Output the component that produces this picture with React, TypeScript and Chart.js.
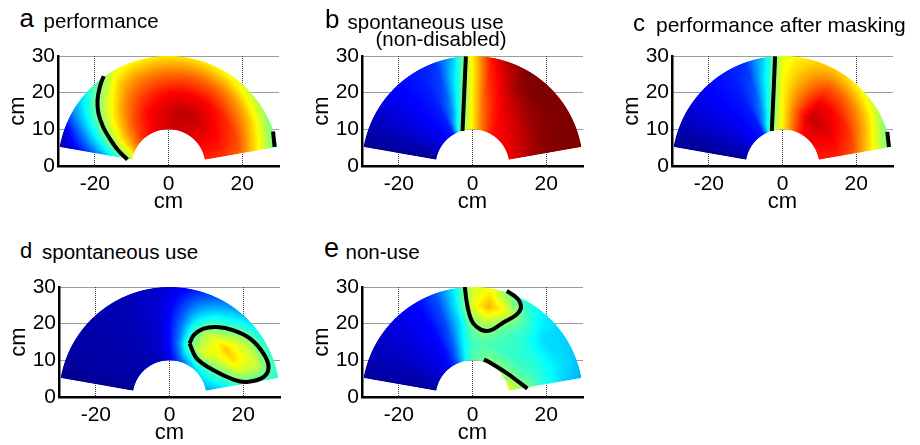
import React, { useEffect, useRef } from 'react';
import { Chart, registerables } from 'chart.js';

Chart.register(...registerables);

// ---------- data ----------
// polar sampling grid of each map: angle (deg) rows x radius (cm) columns
const ANGLES = [10, 20, 30, 40, 50, 60, 70, 80, 90, 100, 110, 120, 130, 140, 150, 160, 170];
const RADII = [10, 15, 20, 25, 30];
const X_TICKS = [-20, 0, 20];
const Y_TICKS = [0, 10, 20, 30];

// normalised map values (0 = dark blue ... 1 = dark red)
const perfValues = [
  [0.84, 0.83, 0.77, 0.62, 0.47],
  [0.86, 0.85, 0.8, 0.65, 0.49],
  [0.87, 0.87, 0.82, 0.69, 0.53],
  [0.89, 0.89, 0.84, 0.72, 0.56],
  [0.9, 0.91, 0.86, 0.75, 0.6],
  [0.91, 0.93, 0.88, 0.77, 0.62],
  [0.92, 0.94, 0.88, 0.78, 0.64],
  [0.92, 0.94, 0.88, 0.78, 0.65],
  [0.91, 0.92, 0.87, 0.77, 0.65],
  [0.9, 0.9, 0.85, 0.76, 0.64],
  [0.89, 0.88, 0.82, 0.74, 0.63],
  [0.87, 0.84, 0.78, 0.7, 0.6],
  [0.84, 0.79, 0.71, 0.6, 0.47],
  [0.8, 0.72, 0.62, 0.5, 0.36],
  [0.74, 0.64, 0.51, 0.38, 0.26],
  [0.66, 0.52, 0.38, 0.24, 0.1],
  [0.55, 0.38, 0.24, 0.12, 0.03],
];
const useNonDisabledValues = [
  [0.88, 0.95, 0.99, 1, 1],
  [0.88, 0.94, 0.99, 1, 1],
  [0.88, 0.93, 0.98, 1, 1],
  [0.88, 0.92, 0.97, 1, 1],
  [0.87, 0.9, 0.95, 1, 1],
  [0.86, 0.88, 0.92, 0.98, 1],
  [0.8, 0.84, 0.87, 0.91, 0.96],
  [0.73, 0.76, 0.8, 0.83, 0.86],
  [0.64, 0.64, 0.64, 0.63, 0.64],
  [0.56, 0.5, 0.42, 0.38, 0.32],
  [0.46, 0.28, 0.22, 0.19, 0.17],
  [0.16, 0.15, 0.15, 0.15, 0.15],
  [0.13, 0.13, 0.13, 0.13, 0.13],
  [0.11, 0.11, 0.11, 0.11, 0.11],
  [0.08, 0.08, 0.08, 0.08, 0.08],
  [0.05, 0.05, 0.05, 0.05, 0.05],
  [0.02, 0.02, 0.02, 0.02, 0.02],
];
const perfMaskedValues = [
  [0.85, 0.85, 0.78, 0.62, 0.47],
  [0.86, 0.87, 0.81, 0.66, 0.49],
  [0.87, 0.89, 0.84, 0.71, 0.56],
  [0.88, 0.91, 0.86, 0.75, 0.6],
  [0.88, 0.93, 0.88, 0.78, 0.64],
  [0.86, 0.93, 0.88, 0.79, 0.67],
  [0.8, 0.84, 0.8, 0.74, 0.67],
  [0.72, 0.74, 0.72, 0.68, 0.64],
  [0.63, 0.63, 0.63, 0.62, 0.6],
  [0.56, 0.5, 0.42, 0.38, 0.33],
  [0.45, 0.28, 0.22, 0.19, 0.17],
  [0.16, 0.15, 0.15, 0.15, 0.15],
  [0.13, 0.13, 0.13, 0.13, 0.13],
  [0.11, 0.11, 0.11, 0.11, 0.11],
  [0.08, 0.08, 0.08, 0.08, 0.08],
  [0.05, 0.05, 0.05, 0.05, 0.05],
  [0.02, 0.02, 0.02, 0.02, 0.02],
];
const useValues = [
  [0.28, 0.36, 0.44, 0.45, 0.42],
  [0.32, 0.43, 0.58, 0.58, 0.42],
  [0.34, 0.5, 0.66, 0.58, 0.4],
  [0.34, 0.55, 0.68, 0.54, 0.36],
  [0.32, 0.6, 0.62, 0.44, 0.3],
  [0.28, 0.55, 0.55, 0.38, 0.24],
  [0.22, 0.47, 0.42, 0.3, 0.18],
  [0.17, 0.26, 0.25, 0.2, 0.13],
  [0.11, 0.13, 0.13, 0.11, 0.09],
  [0.08, 0.08, 0.08, 0.08, 0.07],
  [0.06, 0.06, 0.06, 0.06, 0.06],
  [0.05, 0.05, 0.05, 0.05, 0.05],
  [0.05, 0.05, 0.05, 0.05, 0.05],
  [0.04, 0.04, 0.04, 0.04, 0.04],
  [0.04, 0.04, 0.04, 0.04, 0.04],
  [0.03, 0.03, 0.03, 0.03, 0.03],
  [0.02, 0.02, 0.02, 0.02, 0.02],
];
const nonUseValues = [
  [0.6, 0.5, 0.4, 0.33, 0.3],
  [0.58, 0.46, 0.4, 0.35, 0.32],
  [0.54, 0.44, 0.4, 0.34, 0.33],
  [0.53, 0.43, 0.4, 0.34, 0.34],
  [0.52, 0.43, 0.42, 0.4, 0.36],
  [0.52, 0.43, 0.44, 0.49, 0.4],
  [0.51, 0.44, 0.49, 0.62, 0.48],
  [0.47, 0.45, 0.54, 0.7, 0.62],
  [0.45, 0.44, 0.5, 0.6, 0.58],
  [0.38, 0.36, 0.34, 0.36, 0.36],
  [0.26, 0.22, 0.2, 0.2, 0.2],
  [0.16, 0.14, 0.13, 0.13, 0.13],
  [0.11, 0.11, 0.11, 0.11, 0.11],
  [0.09, 0.09, 0.09, 0.09, 0.09],
  [0.07, 0.07, 0.07, 0.07, 0.07],
  [0.05, 0.05, 0.05, 0.05, 0.05],
  [0.03, 0.03, 0.03, 0.03, 0.03],
];

// contour lines (cm)
const perfContour = [
  { x: -17.6, y: 24.5 }, { x: -18.65, y: 21.55 }, { x: -19.28, y: 17.92 }, { x: -19.0, y: 14.28 },
  { x: -17.75, y: 10.64 }, { x: -15.94, y: 7.46 }, { x: -13.68, y: 4.28 }, { x: -11.14, y: 1.74 },
];
const perfEdgeContour = [{ x: 28.4, y: 9.4 }, { x: 28.8, y: 5.2 }];
const useNonDisabledContour = [{ x: -2.71, y: 9.55 }, { x: -1.8, y: 29.9 }];
const perfMaskedContour = [{ x: -2.9, y: 9.55 }, { x: -2.0, y: 29.9 }];
const perfMaskedEdgeContour = [{ x: 28.45, y: 9.3 }, { x: 28.9, y: 5.2 }];
const useContour = [
  { x: 5.44, y: 14.55 }, { x: 6.53, y: 16.83 }, { x: 9.24, y: 18.64 }, { x: 12.86, y: 19.1 },
  { x: 17.39, y: 18.19 }, { x: 21.91, y: 15.92 }, { x: 25.53, y: 11.83 }, { x: 26.89, y: 8.19 },
  { x: 25.53, y: 5.46 }, { x: 21.0, y: 4.1 }, { x: 17.39, y: 4.74 }, { x: 11.96, y: 7.28 },
  { x: 7.43, y: 10.46 }, { x: 5.44, y: 14.55 },
];
const nonUseContourTop = [
  { x: -2.09, y: 30.0 }, { x: -1.64, y: 26.37 }, { x: -0.91, y: 22.73 }, { x: 0.26, y: 20.01 },
  { x: 2.25, y: 18.37 }, { x: 4.06, y: 18.0 }, { x: 5.87, y: 18.64 }, { x: 8.59, y: 20.46 },
  { x: 11.76, y: 22.28 }, { x: 13.11, y: 24.1 }, { x: 12.84, y: 25.92 }, { x: 11.76, y: 27.28 },
  { x: 9.31, y: 28.91 },
];
const nonUseContourBottom = [
  { x: 3.1, y: 10.2 }, { x: 4.6, y: 9.5 }, { x: 9.5, y: 6.4 }, { x: 14.92, y: 2.28 },
];

// ---------- drawing helpers ----------
const FONT = "'Liberation Sans', Arial, Helvetica, sans-serif";
Chart.defaults.font.family = FONT;
Chart.defaults.color = '#000';

function jet(v: number): [number, number, number] {
  const f = (t: number) => Math.round(255 * Math.max(0, Math.min(1, t)));
  return [f(1.5 - Math.abs(4 * v - 3)), f(1.5 - Math.abs(4 * v - 2)), f(1.5 - Math.abs(4 * v - 1))];
}

function sample(grid: number[][], th: number, r: number) {
  const da = ANGLES[1] - ANGLES[0];
  const dr = RADII[1] - RADII[0];
  const a = (th - ANGLES[0]) / da;
  const b = (r - RADII[0]) / dr;
  const i0 = Math.min(Math.max(Math.floor(a), 0), ANGLES.length - 2);
  const j0 = Math.min(Math.max(Math.floor(b), 0), RADII.length - 2);
  const fa = Math.min(Math.max(a - i0, 0), 1);
  const fb = Math.min(Math.max(b - j0, 0), 1);
  const g = grid;
  return (
    (1 - fa) * ((1 - fb) * g[i0][j0] + fb * g[i0][j0 + 1]) +
    fa * ((1 - fb) * g[i0 + 1][j0] + fb * g[i0 + 1][j0 + 1])
  );
}

function makeFanPlugin(grid: number[][]) {
  return {
    id: 'fanField',
    beforeDatasetsDraw(chart: any) {
      const { left, top, right, bottom } = chart.chartArea;
      const xs = chart.scales.x;
      const ys = chart.scales.y;
      const w = Math.ceil(right - left);
      const h = Math.ceil(bottom - top);
      const off = document.createElement('canvas');
      off.width = w;
      off.height = h;
      const octx = off.getContext('2d')!;
      const img = octx.createImageData(w, h);
      const rMin = RADII[0], rMax = RADII[RADII.length - 1];
      const aMin = ANGLES[0], aMax = ANGLES[ANGLES.length - 1];
      const inside = (x: number, y: number) => {
        const r = Math.hypot(x, y);
        const th = (Math.atan2(y, x) * 180) / Math.PI;
        return r >= rMin && r <= rMax && th >= aMin && th <= aMax;
      };
      const subs = [0.2, 0.4, 0.6, 0.8];
      for (let j = 0; j < h; j++) {
        for (let i = 0; i < w; i++) {
          let cover = 0;
          for (const sx of subs) {
            for (const sy of subs) {
              const x = xs.getValueForPixel(left + i + sx);
              const y = ys.getValueForPixel(top + j + sy);
              if (inside(x, y)) cover++;
            }
          }
          if (!cover) continue;
          const x = xs.getValueForPixel(left + i + 0.5);
          const y = ys.getValueForPixel(top + j + 0.5);
          const r = Math.min(Math.max(Math.hypot(x, y), rMin), rMax);
          const th = Math.min(Math.max((Math.atan2(y, x) * 180) / Math.PI, aMin), aMax);
          const [R, G, B] = jet(sample(grid, th, r));
          const k = (j * w + i) * 4;
          img.data[k] = R;
          img.data[k + 1] = G;
          img.data[k + 2] = B;
          img.data[k + 3] = Math.round((255 * cover) / 16);
        }
      }
      octx.putImageData(img, 0, 0);
      chart.ctx.drawImage(off, left, top);
    },
  };
}

type PanelSpec = {
  left: number;
  top: number;
  grid: number[][];
  contours: { x: number; y: number }[][];
};

const Y_AXIS_W = 58;
const X_AXIS_H = 49;
const CANVAS_W = 300;
const CANVAS_H = 175;

function Panel({ spec }: { spec: PanelSpec }) {
  const ref = useRef<HTMLCanvasElement>(null);
  useEffect(() => {
    const chart = new Chart(ref.current!, {
      type: 'scatter',
      data: {
        datasets: spec.contours.map((c) => ({
          data: c,
          showLine: true,
          borderColor: '#000',
          backgroundColor: '#000',
          borderWidth: 4,
          pointRadius: 0,
          tension: 0.35,
          borderCapStyle: 'butt',
          fill: false,
        })),
      } as any,
      options: {
        responsive: false,
        animation: false,
        events: [],
        layout: { padding: { top: 16, right: 21, bottom: 0, left: 0 } },
        plugins: { legend: { display: false }, tooltip: { enabled: false } },
        scales: {
          x: {
            type: 'linear',
            min: -30,
            max: 30,
            afterBuildTicks: (s: any) => {
              s.ticks = X_TICKS.map((v) => ({ value: v }));
            },
            afterFit: (s: any) => {
              s.height = X_AXIS_H;
            },
            grid: { color: '#3a3a3a', lineWidth: 1, drawTicks: false, borderDash: [1, 1] },
            border: { display: true, color: '#000', width: 2.5, dash: [1, 1], z: 1 },
            ticks: { padding: 6, font: { size: 21 }, color: '#000', maxRotation: 0, autoSkip: false },
            title: { display: true, text: 'cm', font: { size: 22 }, color: '#000', padding: 0 },
          },
          y: {
            type: 'linear',
            min: 0,
            max: 30,
            afterBuildTicks: (s: any) => {
              s.ticks = Y_TICKS.map((v) => ({ value: v }));
            },
            afterFit: (s: any) => {
              s.width = Y_AXIS_W;
            },
            grid: { color: '#3a3a3a', lineWidth: 1, drawTicks: false, borderDash: [1, 1] },
            border: { display: true, color: '#000', width: 2.5, dash: [1, 1], z: 1 },
            ticks: { padding: 3, font: { size: 21 }, color: '#000', autoSkip: false },
            title: { display: true, text: 'cm', font: { size: 22 }, color: '#000', padding: { top: 5, bottom: 0 } },
          },
        },
      } as any,
      plugins: [makeFanPlugin(spec.grid)],
    });
    return () => chart.destroy();
  }, [spec]);
  return (
    <canvas
      ref={ref}
      width={CANVAS_W}
      height={CANVAS_H}
      style={{ position: 'absolute', left: spec.left, top: spec.top, width: CANVAS_W, height: CANVAS_H }}
    />
  );
}

function Label({ x, baseline, size, text }: { x: number; baseline: number; size: number; text: string }) {
  return (
    <div
      style={{
        position: 'absolute',
        left: x,
        top: baseline - 0.8465 * size,
        fontSize: size,
        lineHeight: `${size}px`,
        fontFamily: FONT,
        whiteSpace: 'nowrap',
        color: '#000',
      }}
    >
      {text}
    </div>
  );
}

const PANELS: PanelSpec[] = [
  { left: 0, top: 40, grid: perfValues, contours: [perfContour, perfEdgeContour] },
  { left: 304, top: 40, grid: useNonDisabledValues, contours: [useNonDisabledContour] },
  { left: 614, top: 40, grid: perfMaskedValues, contours: [perfMaskedContour, perfMaskedEdgeContour] },
  { left: 1, top: 271, grid: useValues, contours: [useContour] },
  { left: 304, top: 271, grid: nonUseValues, contours: [nonUseContourTop, nonUseContourBottom] },
];

export default function App() {
  return (
    <div style={{ position: 'absolute', left: 0, top: 0, width: 920, height: 445, overflow: 'hidden', background: '#fff' }}>
      {PANELS.map((p, i) => (
        <Panel key={i} spec={p} />
      ))}
      <Label x={19.5} baseline={27} size={26} text="a" />
      <Label x={43.5} baseline={28.5} size={20.5} text="performance" />
      <Label x={325} baseline={27.7} size={26} text="b" />
      <Label x={347.5} baseline={29.5} size={20.5} text="spontaneous use" />
      <Label x={375.5} baseline={46.5} size={20.5} text="(non-disabled)" />
      <Label x={633} baseline={31} size={24} text="c" />
      <Label x={656} baseline={31.5} size={21} text="performance after masking" />
      <Label x={20} baseline={258.5} size={22} text="d" />
      <Label x={42} baseline={259.5} size={20.5} text="spontaneous use" />
      <Label x={324} baseline={258.3} size={27} text="e" />
      <Label x={345.5} baseline={259.5} size={20.5} text="non-use" />
    </div>
  );
}
